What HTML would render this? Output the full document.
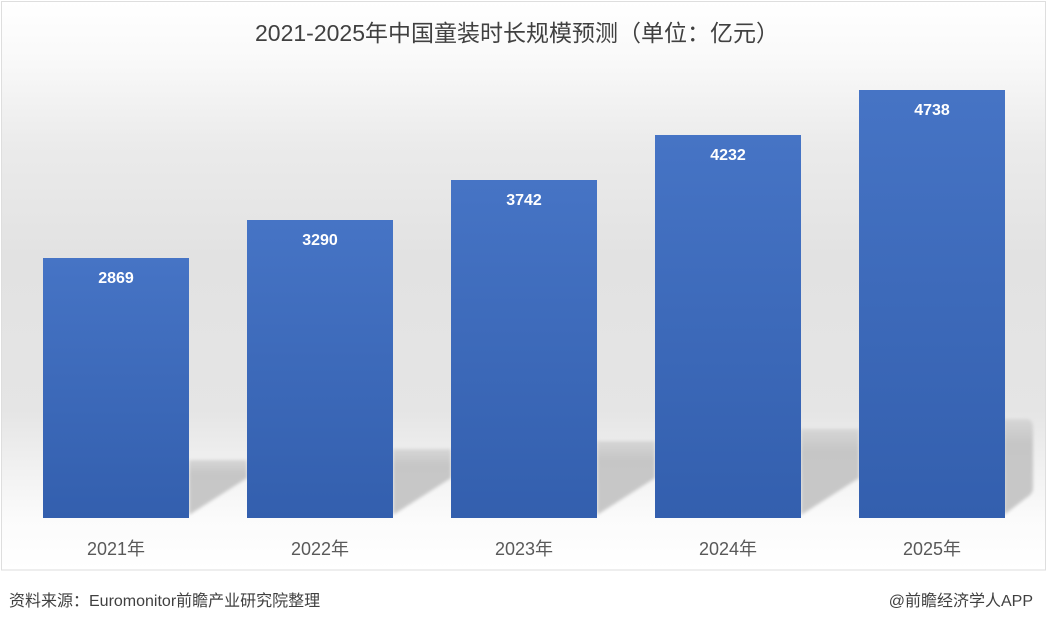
<!DOCTYPE html>
<html>
<head>
<meta charset="utf-8">
<style>
  html,body{margin:0;padding:0;background:#fff;}
  body{width:1048px;height:624px;overflow:hidden;}
  svg{display:block;}
  text{font-family:"Liberation Sans","Noto Sans CJK SC",sans-serif;}
</style>
</head>
<body>
<svg width="1048" height="624" viewBox="0 0 1048 624" xmlns="http://www.w3.org/2000/svg">
  <defs>
    <linearGradient id="bg" gradientUnits="userSpaceOnUse" x1="0" y1="2" x2="0" y2="570">
      <stop offset="0" stop-color="#ffffff"/>
      <stop offset="0.10" stop-color="#f9f9f9"/>
      <stop offset="0.25" stop-color="#ebebeb"/>
      <stop offset="0.45" stop-color="#e2e2e2"/>
      <stop offset="0.72" stop-color="#e5e5e5"/>
      <stop offset="0.83" stop-color="#f2f2f2"/>
      <stop offset="0.91" stop-color="#fbfbfb"/>
      <stop offset="1" stop-color="#ffffff"/>
    </linearGradient>
    <linearGradient id="bar" x1="0" y1="0" x2="0" y2="1">
      <stop offset="0" stop-color="#4674c5"/>
      <stop offset="1" stop-color="#335fae"/>
    </linearGradient>
    <linearGradient id="sh" x1="0" y1="0" x2="0" y2="1">
      <stop offset="0" stop-color="#d6d6d6"/>
      <stop offset="0.25" stop-color="#c6c6c6"/>
      <stop offset="1" stop-color="#c8c8c8"/>
    </linearGradient>
    <filter id="blur" x="-10%" y="-10%" width="120%" height="120%">
      <feGaussianBlur stdDeviation="1.5"/>
    </filter>
  </defs>

  <!-- chart frame -->
  <rect x="1.5" y="1.5" width="1044" height="568.5" fill="url(#bg)" stroke="#dedede" stroke-width="1"/>

  <!-- shadows -->
  <g filter="url(#blur)" fill="url(#sh)">
    <polygon points="189,460 247,460 247,478 189,515"/>
    <polygon points="393,449 451,449 451,478 393,515"/>
    <polygon points="597,441 655,441 655,478 597,515"/>
    <polygon points="801,429 859,429 859,478 801,515"/>
    <path d="M1004,419 L1026,419 Q1033,419 1033,427 L1033,488 Q1033,494 1026,498 L1004,515 Z"/>
  </g>

  <!-- bars -->
  <rect x="43" y="258" width="146" height="260" fill="url(#bar)"/>
  <rect x="247" y="220" width="146" height="298" fill="url(#bar)"/>
  <rect x="451" y="180" width="146" height="338" fill="url(#bar)"/>
  <rect x="655" y="135" width="146" height="383" fill="url(#bar)"/>
  <rect x="859" y="90" width="146" height="428" fill="url(#bar)"/>

  <!-- value labels -->
  <g fill="#ffffff" font-size="16" font-weight="bold" text-anchor="middle">
    <text x="116" y="283">2869</text>
    <text x="320" y="245">3290</text>
    <text x="524" y="205">3742</text>
    <text x="728" y="160">4232</text>
    <text x="932" y="115">4738</text>
  </g>

  <!-- category labels -->
  <g fill="#595959" font-size="18" text-anchor="middle">
    <text x="116" y="555">2021年</text>
    <text x="320" y="555">2022年</text>
    <text x="524" y="555">2023年</text>
    <text x="728" y="555">2024年</text>
    <text x="932" y="555">2025年</text>
  </g>

  <!-- title -->
  <text x="517" y="41" fill="#404040" font-size="23" text-anchor="middle">2021-2025年中国童装时长规模预测（单位：亿元）</text>

  <!-- footer -->
  <text x="9" y="606" fill="#404040" font-size="16">资料来源：Euromonitor前瞻产业研究院整理</text>
  <text x="1033" y="606" fill="#404040" font-size="16" text-anchor="end">@前瞻经济学人APP</text>
</svg>
</body>
</html>
